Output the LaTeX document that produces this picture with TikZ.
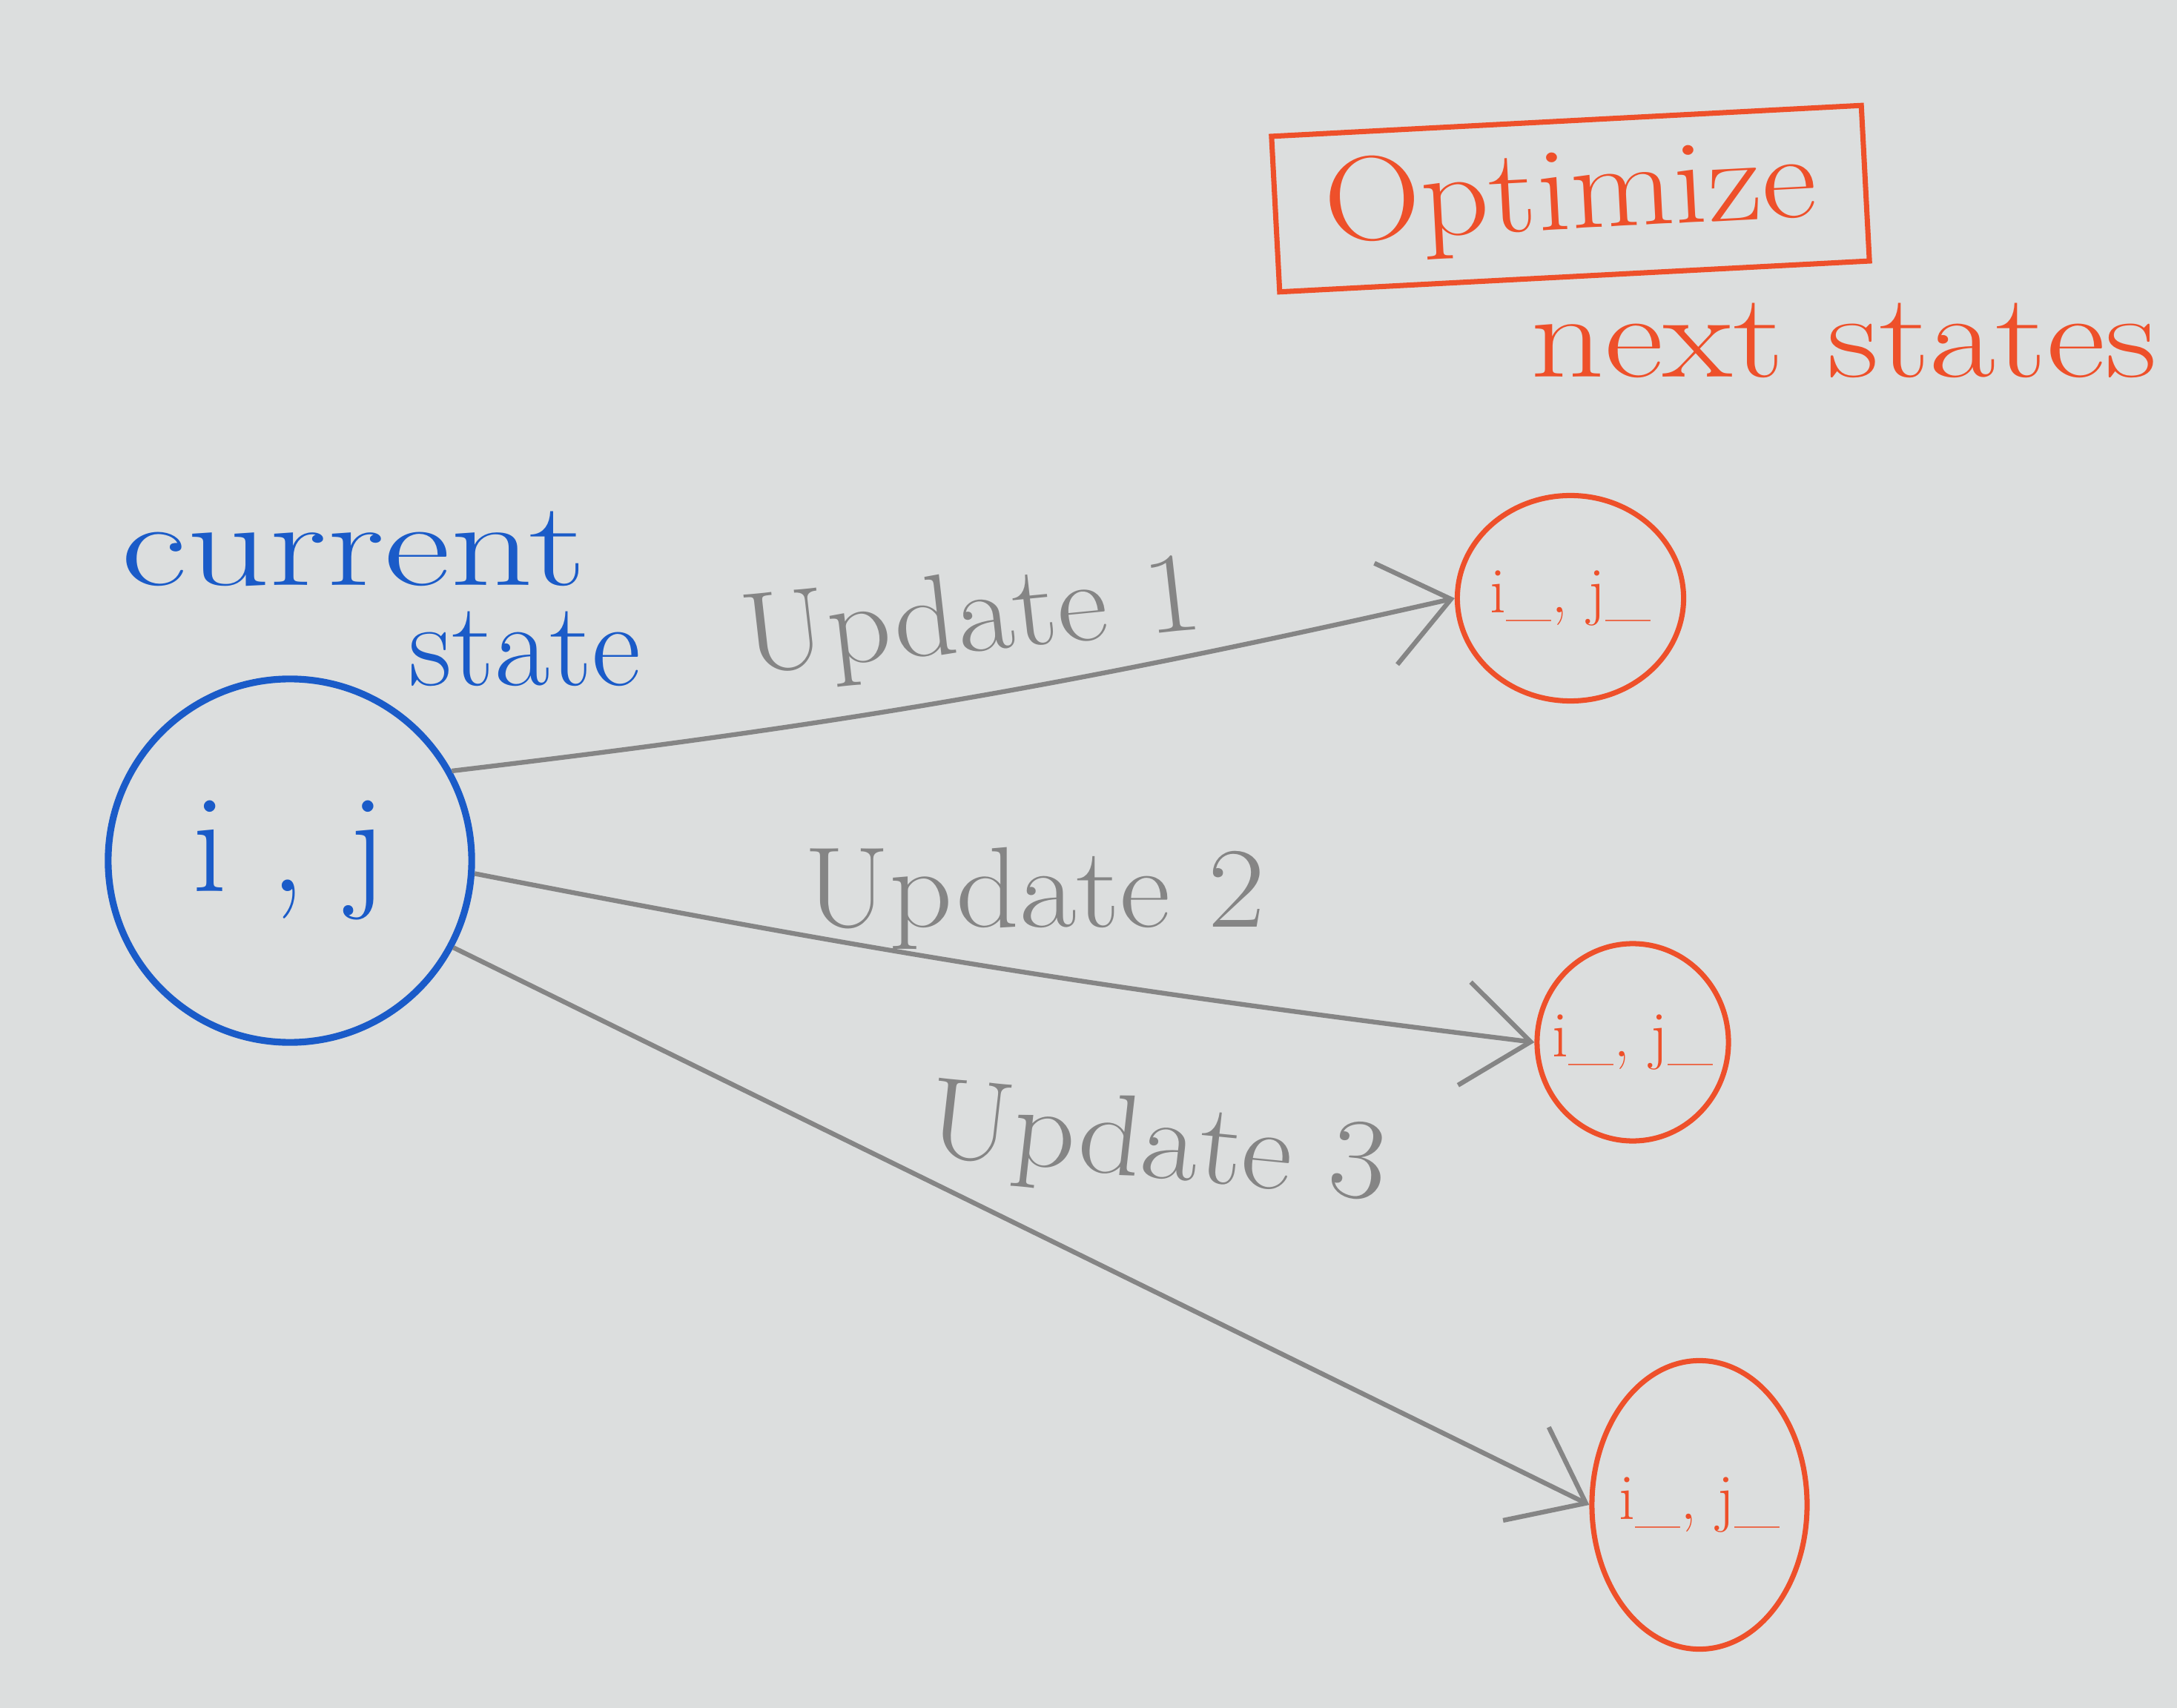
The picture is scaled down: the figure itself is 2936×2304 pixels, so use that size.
\documentclass[tikz,border=0pt]{standalone}
\usepackage{fontspec}
\usetikzlibrary{arrows.meta,shapes.geometric}
\definecolor{paper}{HTML}{DCDEDE}
\definecolor{penblue}{HTML}{1A5BC8}
\definecolor{penred}{HTML}{EE502A}
\definecolor{pencil}{HTML}{858585}
\begin{document}
\begin{tikzpicture}[x=0.01cm,y=0.01cm,
 bluestate/.style={draw=penblue, line width=2.6pt, circle, minimum size=4.9cm, text=penblue, font=\fontsize{54}{60}\selectfont},
 redstate/.style={draw=penred, line width=2pt, ellipse, inner sep=0pt, text=penred, font=\fontsize{25}{30}\selectfont},
 update/.style={draw=pencil, line width=1.8pt, -{Straight Barb[length=0.9cm,width=1.4cm,line width=1.8pt]}},
 ulabel/.style={text=pencil, font=\fontsize{44}{50}\selectfont, xscale=1.08, transform shape},
 redtext/.style={text=penred, font=\fontsize{46}{52}\selectfont},
 bluetext/.style={text=penblue, font=\fontsize{46}{52}\selectfont}]
\fill[paper] (0,0) rectangle (2936,-2304);
\useasboundingbox (0,0) rectangle (2936,-2304);

% current state
\node[bluestate] (cur) at (391,-1161) {i , j};
\node[bluetext, xscale=1.35, transform shape] (curlbl) at (477,-740) {current};
\node[bluetext] (statelbl) at (708,-875) {state};

% next states
\node[redstate, minimum width=3.05cm, minimum height=2.77cm] (r1) at (2118,-807) {\makebox[0pt]{i\_, j\_}};
\node[redstate, minimum width=2.58cm, minimum height=2.66cm] (r2) at (2202,-1406) {\makebox[0pt]{i\_, j\_}};
\node[redstate, minimum width=2.9cm, minimum height=3.89cm] (r3) at (2292,-2030) {\makebox[0pt]{\raisebox{-0.5cm}{i\_, j\_}}};

% optimize box
\node[draw=penred, line width=2pt, rotate=3, minimum width=7.96cm, minimum height=2.1cm, redtext] (opt) at (2118,-268) {\scalebox{1.12}[1]{Optimize}};
\node[redtext, xscale=1.2, transform shape] (next) at (2487,-459) {next states};

% updates
\draw[update] (cur.29) to[bend right=3] (r1.west);
\draw[update] (cur.-4) to[bend right=2] (r2.west);
\draw[update] (cur.-28) to (r3.west);

\node[ulabel, rotate=6] (u1) at (1311,-840) {Update 1};
\node[ulabel] (u2) at (1395,-1212) {Update 2};
\node[ulabel, rotate=-6] (u3) at (1560,-1550) {Update 3};
\end{tikzpicture}
\end{document}
